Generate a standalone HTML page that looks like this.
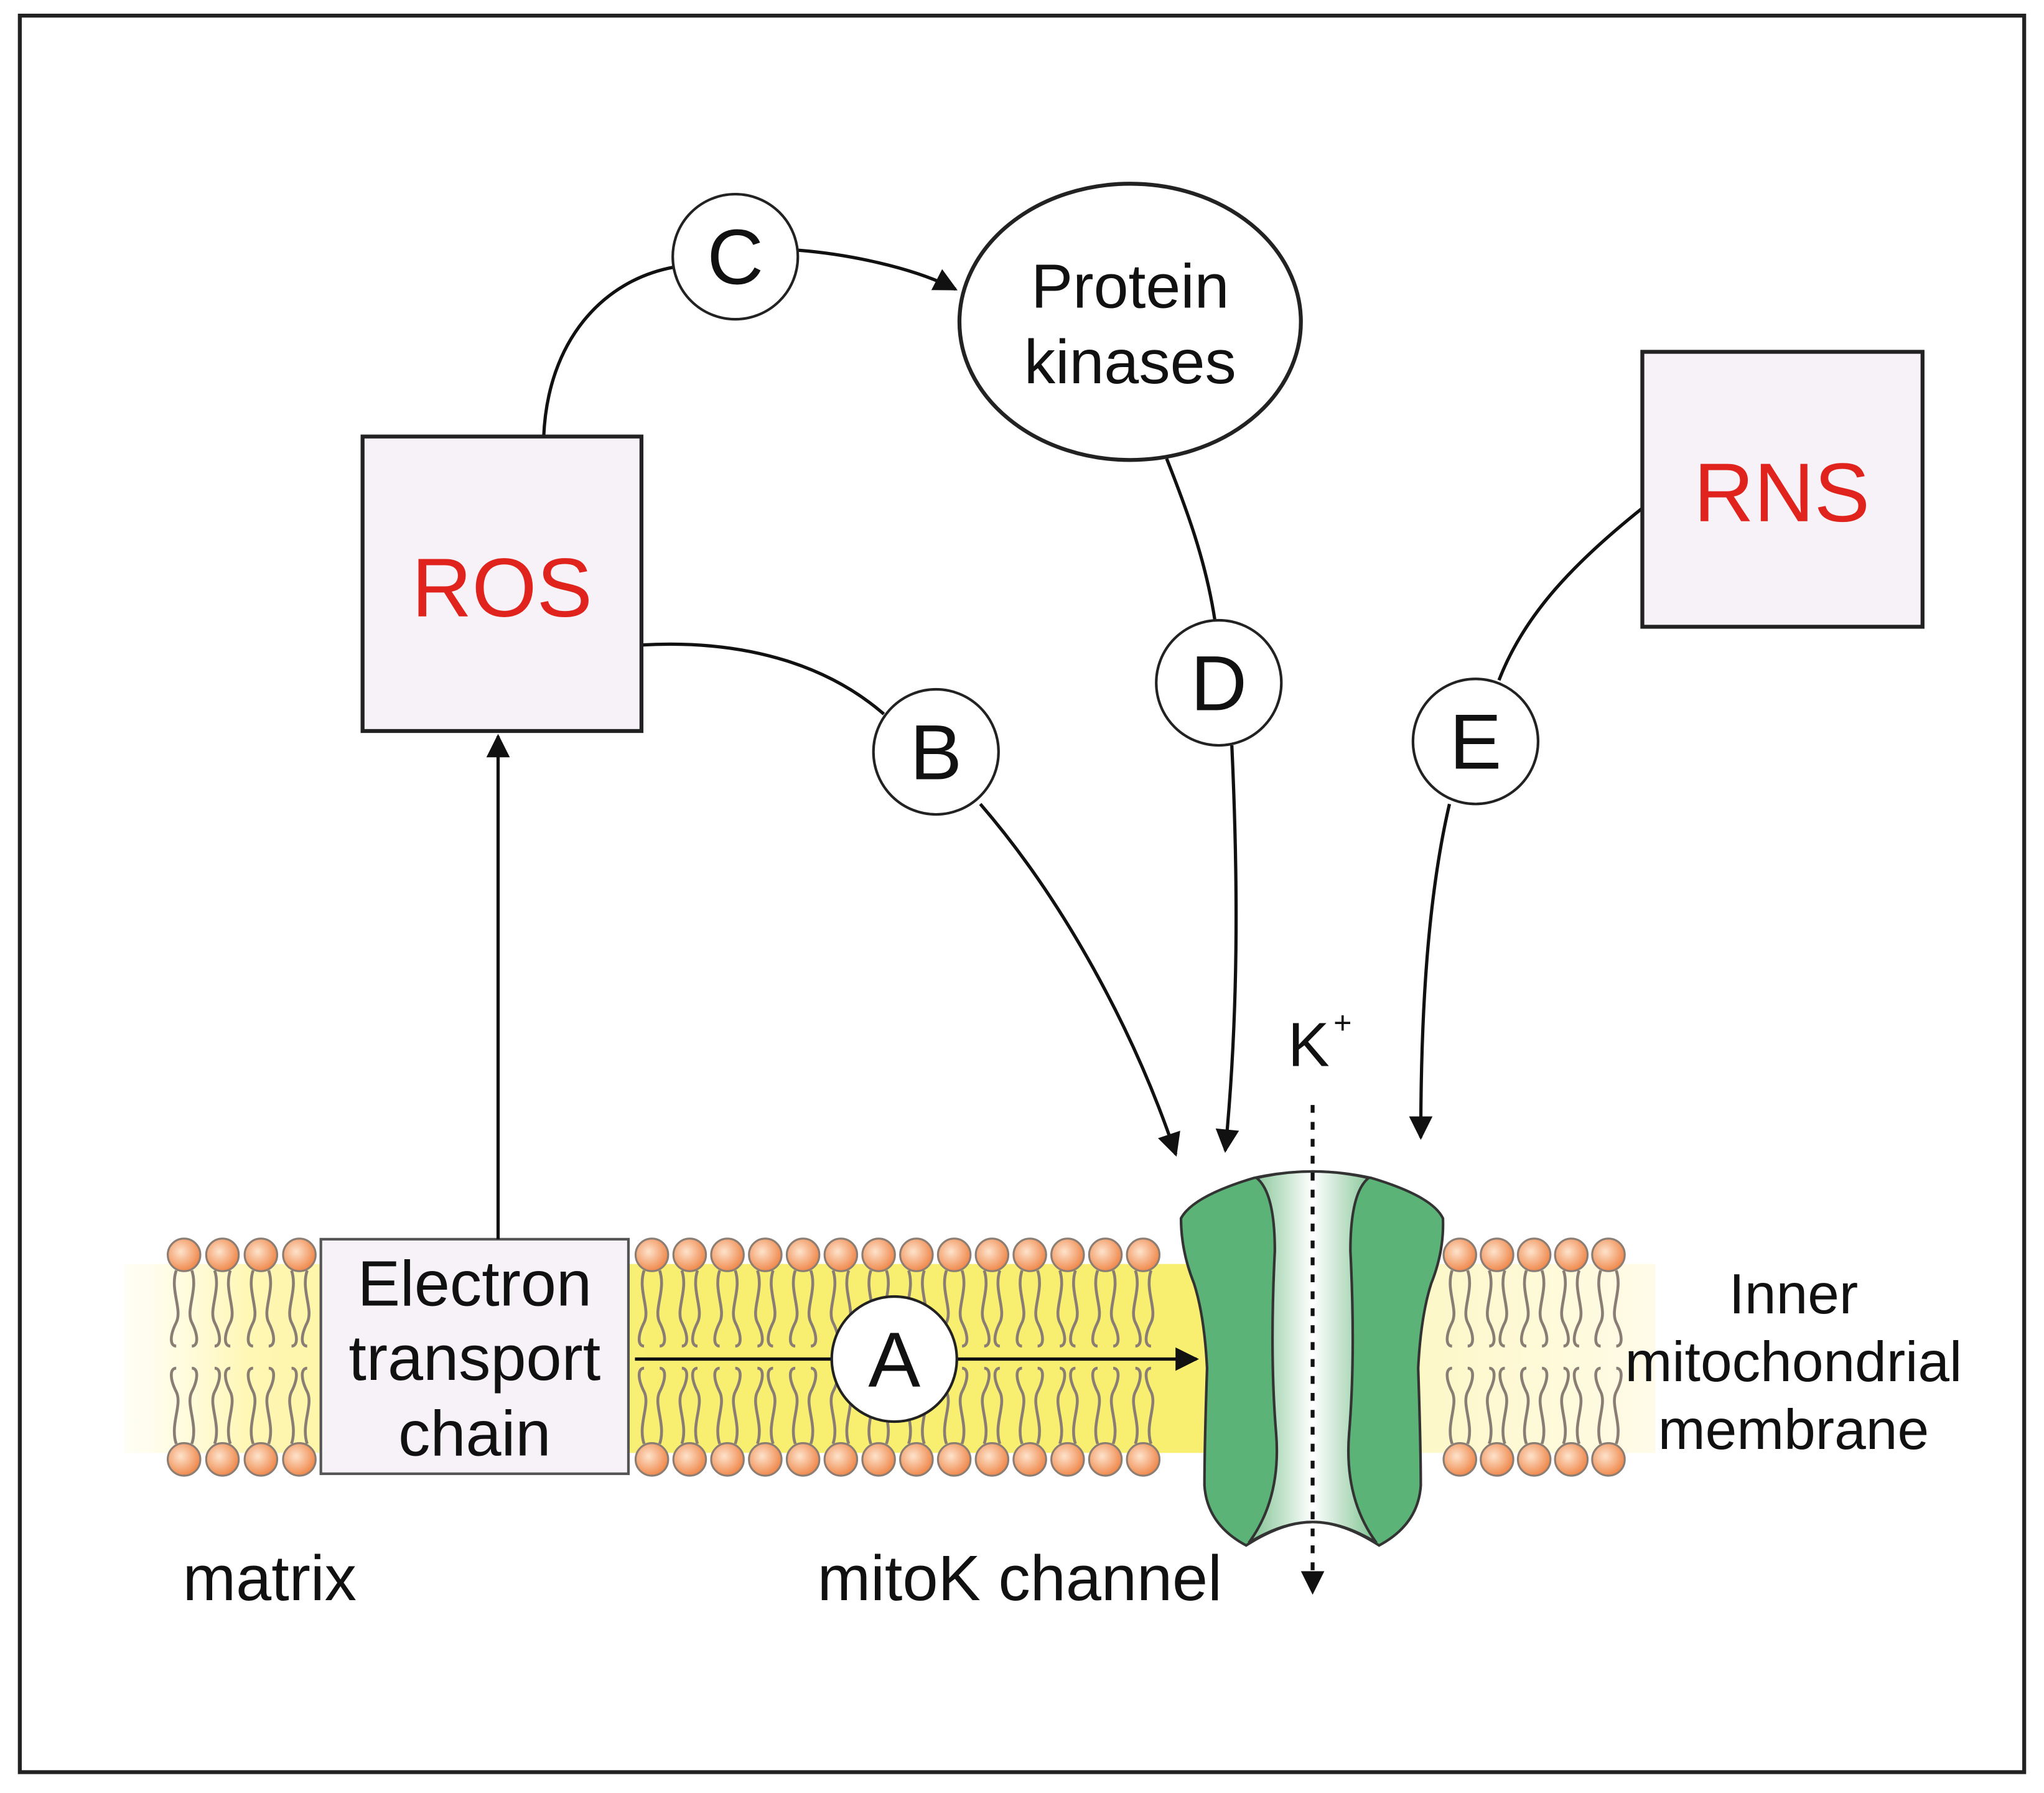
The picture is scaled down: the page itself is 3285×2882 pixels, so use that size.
<!DOCTYPE html>
<html><head><meta charset="utf-8"><style>
html,body{margin:0;padding:0;background:#fff}
svg{display:block}
text{font-family:"Liberation Sans",sans-serif}
</style></head><body>
<svg id="s" width="3285" height="2882" viewBox="0 0 1568 1376" xmlns="http://www.w3.org/2000/svg">
<defs>
<radialGradient id="head" cx="0.4" cy="0.4" r="0.6"><stop offset="0" stop-color="#fde3cc"/><stop offset="1" stop-color="#f08a4e"/></radialGradient>
<linearGradient id="band" x1="0" y1="0" x2="1" y2="0">
<stop offset="0" stop-color="#fffbe0" stop-opacity="0.3"/><stop offset="0.08" stop-color="#fff7b5"/><stop offset="0.35" stop-color="#f8ef70"/><stop offset="0.7" stop-color="#f8ef70"/><stop offset="0.85" stop-color="#fdf8c8"/><stop offset="1" stop-color="#fffbe8"/></linearGradient>
<linearGradient id="pore" x1="0" y1="0" x2="1" y2="0"><stop offset="0" stop-color="#7cc18f"/><stop offset="0.5" stop-color="#ffffff"/><stop offset="1" stop-color="#7cc18f"/></linearGradient>
<marker id="ar2" viewBox="0 0 10 10" refX="9" refY="5" markerWidth="20" markerHeight="18" markerUnits="userSpaceOnUse" orient="auto"><path d="M0,0L10,5L0,10z" fill="#111"/></marker>
</defs>
<rect x="15" y="12" width="1538" height="1348" fill="#fff" stroke="#222" stroke-width="3"/>
<!-- membrane -->
<rect x="95" y="970" width="1175" height="145" fill="url(#band)"/>
<g id="tails" stroke="#8a7d74" stroke-width="2.2" fill="none"></g>
<g id="heads" stroke="#8a7d74" stroke-width="1.5"></g>
<!-- ETC -->
<rect x="246" y="951" width="236" height="180" fill="#f6f2f8" stroke="#555" stroke-width="2"/>
<text x="364" y="1002" font-size="49" text-anchor="middle" fill="#111">Electron</text>
<text x="364" y="1059" font-size="49" text-anchor="middle" fill="#111">transport</text>
<text x="364" y="1117" font-size="49" text-anchor="middle" fill="#111">chain</text>
<!-- channel -->
<path d="M906,935 Q915,918 962,904 Q1007,894 1052,904 Q1099,918 1107,935 Q1108,960 1098,985 Q1090,1010 1088,1050 Q1090,1110 1090,1140 Q1088,1170 1058,1186 Q1030,1168 1007,1168 Q984,1168 956,1186 Q926,1170 924,1140 Q924,1110 926,1050 Q924,1010 916,985 Q906,960 906,935 Z" fill="#5cb377" stroke="#333" stroke-width="2"/>
<path d="M964,904 Q1007,894 1050,904 Q1036,915 1036,960 Q1040,1040 1035,1100 Q1031,1150 1056,1184 Q1030,1168 1007,1168 Q984,1168 958,1184 Q983,1150 979,1100 Q974,1040 978,960 Q978,915 964,904 Z" fill="url(#pore)" stroke="#333" stroke-width="2"/>
<!-- arrows -->
<g stroke="#111" stroke-width="2.5" fill="none">
<line x1="382" y1="951" x2="382" y2="565" marker-end="url(#ar2)"/>
<path d="M417,335 C420,262 462,215 517,205"/>
<path d="M612,192 C650,195 700,205 733,222" marker-end="url(#ar2)"/>
<path d="M492,495 C580,490 640,515 678,548"/>
<path d="M752,617 C815,690 870,790 902,886" marker-end="url(#ar2)"/>
<path d="M895,352 C910,390 925,430 932,476"/>
<path d="M945,572 C950,680 950,780 940,883" marker-end="url(#ar2)"/>
<path d="M1260,390 C1210,430 1170,470 1150,522"/>
<path d="M1112,617 C1095,690 1090,780 1090,873" marker-end="url(#ar2)"/>
<line x1="487" y1="1043" x2="918" y2="1043" marker-end="url(#ar2)"/>
<line x1="1007" y1="848" x2="1007" y2="1222" stroke-dasharray="6,7" stroke-width="3" marker-end="url(#ar2)"/>
</g>
<!-- boxes -->
<rect x="278" y="335" width="214" height="226" fill="#f6f2f8" stroke="#222" stroke-width="3"/>
<text x="385" y="473" font-size="64" text-anchor="middle" fill="#e0231c">ROS</text>
<rect x="1260" y="270" width="215" height="211" fill="#f6f2f8" stroke="#222" stroke-width="3"/>
<text x="1367" y="400" font-size="64" text-anchor="middle" fill="#e0231c">RNS</text>
<ellipse cx="867" cy="247" rx="131" ry="106" fill="#fff" stroke="#222" stroke-width="3"/>
<text x="867" y="236" font-size="48" text-anchor="middle" fill="#111">Protein</text>
<text x="867" y="294" font-size="48" text-anchor="middle" fill="#111">kinases</text>
<g fill="#fff" stroke="#222" stroke-width="2">
<circle cx="564" cy="197" r="48"/><circle cx="718" cy="577" r="48"/><circle cx="935" cy="524" r="48"/><circle cx="1132" cy="569" r="48"/><circle cx="686" cy="1043" r="48"/>
</g>
<g font-size="60" text-anchor="middle" fill="#111">
<text x="564" y="218">C</text><text x="718" y="598">B</text><text x="935" y="545">D</text><text x="1132" y="590">E</text><text x="686" y="1064">A</text>
</g>
<text x="988" y="818" font-size="48" fill="#111">K</text><text x="1023" y="793" font-size="24" fill="#111">+</text>
<text x="140" y="1228" font-size="49" fill="#111">matrix</text>
<text x="627" y="1228" font-size="49" fill="#111">mitoK channel</text>
<g font-size="43.5" text-anchor="middle" fill="#111">
<text x="1376" y="1008">Inner</text><text x="1376" y="1060">mitochondrial</text><text x="1376" y="1112">membrane</text>
</g>
</svg>
<script>
(function(){
var ns="http://www.w3.org/2000/svg",T=document.getElementById('tails'),H=document.getElementById('heads');
var xs=[];
for(var x=141;x<=230;x+=29.5)xs.push(x);
for(var x=500;x<=900;x+=29)xs.push(x);
for(var x=1120;x<=1235;x+=28.5)xs.push(x);
xs.forEach(function(x,i){
 [[963,1],[1120,-1]].forEach(function(r){
  var y=r[0],d=r[1];
  [-6,6].forEach(function(o,j){
   var a=(i+j)%2?5:-5,p=document.createElementNS(ns,'path');
   var y0=y+d*12,y1=y+d*70;
   p.setAttribute('d','M'+(x+o)+','+y0+' C'+(x+o+a)+','+(y0+d*15)+' '+(x+o-a)+','+(y0+d*30)+' '+(x+o)+','+(y0+d*40)+' S'+(x+o+a)+','+(y1)+' '+(x+o)+','+y1);
   T.appendChild(p);
  });
  var c=document.createElementNS(ns,'circle');
  c.setAttribute('cx',x);c.setAttribute('cy',y);c.setAttribute('r',12.5);c.setAttribute('fill','url(#head)');
  H.appendChild(c);
 });
});
})();
</script>
</body></html>
